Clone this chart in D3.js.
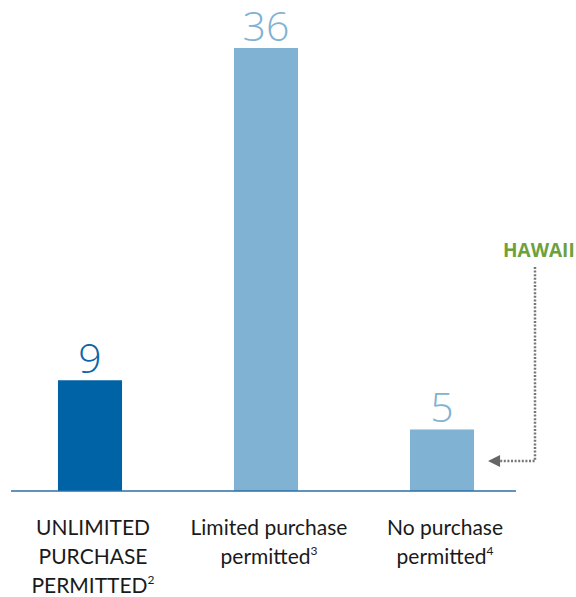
<!DOCTYPE html>
<html><head><meta charset="utf-8">
<script src="https://cdn.jsdelivr.net/npm/d3@7"></script>
<style>body{margin:0;background:#fff}svg{display:block}</style>
</head><body>
<svg id="c" width="576" height="597"></svg>
<script>
const categories = ["UNLIMITED PURCHASE PERMITTED", "Limited purchase permitted", "No purchase permitted"];
const labelLines = [["UNLIMITED","PURCHASE","PERMITTED"],["Limited purchase","permitted"],["No purchase","permitted"]];
const footnotes = ["2","3","4"];
const values = [9, 36, 5];
const barColors = ["#0063a6", "#80b2d3", "#80b2d3"];
const valueColors = ["#0a66a8", "#80b2d3", "#80b2d3"];
const annotation = "HAWAII";

const svg = d3.select("#c");
const x = d3.scaleBand().domain(categories).range([2, 530]).paddingInner(0.636).paddingOuter(0.318);
const y = d3.scaleLinear().domain([0, 36]).range([491, 48]);

svg.selectAll("rect.bar").data(values).join("rect")
  .attr("x",(d,i)=>x(categories[i])).attr("width",x.bandwidth())
  .attr("y",d=>y(d)).attr("height",d=>y(0)-y(d))
  .attr("fill",(d,i)=>barColors[i]);

svg.append("line").attr("x1",11).attr("x2",516).attr("y1",491).attr("y2",491)
  .attr("stroke","#2a6fa8").attr("stroke-width",1.5);

svg.selectAll("text.val").data(values).join("text")
  .attr("x",(d,i)=>x(categories[i])+x.bandwidth()/2)
  .attr("y",d=>y(d)-7)
  .attr("text-anchor","middle")
  .attr("font-family","'Open Sans', sans-serif").attr("font-weight",300)
  .attr("font-size",41).attr("fill",(d,i)=>valueColors[i])
  .text(d=>d);

const lab = svg.selectAll("text.cat").data(categories).join("text")
  .attr("text-anchor","middle")
  .attr("font-family","Lato, sans-serif").attr("font-size",21).attr("fill","#1a1a1a");
lab.each(function(c,i){
  const t=d3.select(this);
  const cx=x(c)+x.bandwidth()/2+3;
  labelLines[i].forEach((ln,j)=>{
    t.append("tspan").attr("x",cx).attr("y",535+j*29).text(ln);
    if(j===labelLines[i].length-1){
      t.append("tspan").attr("font-size",12).attr("dy",-9).text(footnotes[i]);
    }
  });
});

svg.append("text").attr("x",503).attr("y",257).attr("text-anchor","start")
  .attr("font-family","'Open Sans', sans-serif").attr("font-weight",700).attr("font-size",19)
  .attr("fill","#6ea13b").text(annotation);

const bx = x(categories[2])+x.bandwidth();
svg.append("path").attr("d",`M535,267 V461 H${bx+26}`)
  .attr("fill","none").attr("stroke","#777").attr("stroke-width",2.5).attr("stroke-dasharray","2,1.6");
svg.append("path").attr("d",`M${bx+14},461 L${bx+26},455 L${bx+26},467 Z`).attr("fill","#666");
</script>
</body></html>
